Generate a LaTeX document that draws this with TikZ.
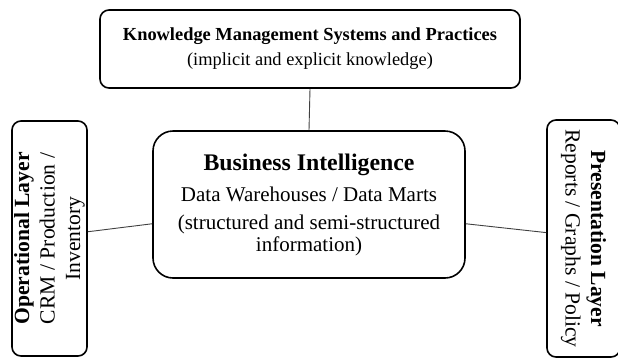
\documentclass[tikz,border=0pt]{standalone}
\usepackage{fontspec}
\setmainfont{Liberation Serif}
\tikzset{
    layer/.style={draw, line width=1.6pt, rounded corners=9pt, align=center, inner sep=0pt},
    link/.style={line width=0.9pt, black!75}
}
\begin{document}
\begin{tikzpicture}[x=1pt,y=-1pt]
        \useasboundingbox (0,0) rectangle (618,360);
        %% Knowledge management on top
        \node[layer, minimum width=420pt, minimum height=78pt, font=\fontsize{18.4}{25}\selectfont] (km) at (310,49)
            {\textbf{Knowledge Management Systems and Practices}\\(implicit and explicit knowledge)};
        %% Business intelligence in the middle
        \node[layer, rounded corners=20pt, minimum width=312pt, minimum height=147pt, font=\fontsize{21}{22}\selectfont] (bi) at (309,204.5)
            {{\fontsize{23.8}{26}\selectfont\bfseries Business Intelligence}\\[9pt]Data Warehouses / Data Marts\\[6pt](structured and semi-structured\\information)};
        %% Side layers, set sideways
        \node[layer, rotate=90, minimum width=235pt, minimum height=75pt, font=\fontsize{21.6}{25.5}\selectfont] (ol) at (49.5,238.5)
            {\textbf{Operational Layer}\\CRM / Production /\\Inventory};
        \node[layer, rotate=-90, minimum width=237pt, minimum height=73pt, font=\fontsize{21.6}{25.5}\selectfont] (pl) at (583.5,238.5)
            {\textbf{Presentation Layer}\\Reports / Graphs / Policy};
        %% Links
        \draw[link] (km.south) -- (bi.north);
        \draw[link] (ol.-80) -- (bi.187);
        \draw[link] (bi.-7) -- (pl.-99);
    \end{tikzpicture}
\end{document}
